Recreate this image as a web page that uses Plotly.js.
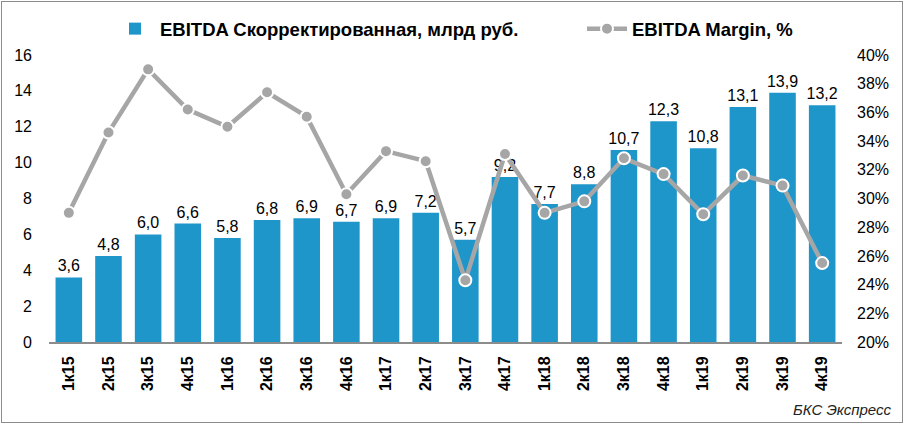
<!DOCTYPE html>
<html>
<head>
<meta charset="utf-8">
<script src="https://cdn.plot.ly/plotly-3.0.1.min.js"></script>
<style>
  body { margin: 0; background: #fff; }
  #chart { width: 907px; height: 428px; }
  #frame { position: absolute; left: 1px; top: 1px; width: 900px; height: 420px;
           border: 1.5px solid #8c8c8c; pointer-events: none; }
</style>
</head>
<body>
<div id="chart"></div>
<div id="frame"></div>
<script>
var quarters = ['1к15', '2к15', '3к15', '4к15', '1к16', '2к16', '3к16', '4к16', '1к17', '2к17',
                '3к17', '4к17', '1к18', '2к18', '3к18', '4к18', '1к19', '2к19', '3к19', '4к19'];
var ebitda = [3.6, 4.8, 6.0, 6.6, 5.8, 6.8, 6.9, 6.7, 6.9, 7.2,
              5.7, 9.2, 7.7, 8.8, 10.7, 12.3, 10.8, 13.1, 13.9, 13.2];
var margin = [29.0, 34.6, 39.0, 36.2, 35.0, 37.4, 35.7, 30.3, 33.3, 32.6,
              24.3, 33.1, 29.0, 29.8, 32.8, 31.7, 28.9, 31.6, 30.9, 25.5];

chart = document.getElementById("chart");

var data = [
  {
    x: quarters,
    y: ebitda,
    type: 'bar',
    name: 'EBITDA Скорректированная, млрд руб.',
    legend: 'legend',
    marker: {color: '#1E96CA'},
    texttemplate: '%{y:.1f}',
    textposition: 'outside',
    constraintext: 'none',
    textfont: {size: 16, color: '#000'},
    cliponaxis: false,
    hoverinfo: 'x+y'
  },
  {
    x: quarters,
    y: margin,
    type: 'scatter',
    mode: 'lines+markers',
    name: 'EBITDA Margin, %',
    legend: 'legend2',
    yaxis: 'y2',
    line: {color: '#A6A6A6', width: 4.5},
    marker: {color: '#A6A6A6', size: 12, line: {color: '#fff', width: 2}},
    cliponaxis: false
  }
];

var legendFont = {size: 18.5, weight: 'bold'};

var layout = {
  width: 907,
  height: 428,
  separators: ', ',
  font: {family: 'Arial, Liberation Sans', color: '#000'},
  margin: {l: 49, r: 65, t: 55, b: 86, pad: 0, autoexpand: false},
  bargap: 0.33,
  showlegend: true,
  legend: {
    orientation: 'h',
    xref: 'container', yref: 'container',
    x: 110 / 907, xanchor: 'left',
    y: 0.932, yanchor: 'middle',
    font: legendFont,
    itemwidth: 40
  },
  legend2: {
    orientation: 'h',
    xref: 'container', yref: 'container',
    x: 582 / 907, xanchor: 'left',
    y: 0.932, yanchor: 'middle',
    font: legendFont,
    itemwidth: 40
  },
  xaxis: {
    automargin: false,
    range: [-0.5, 19.5],
    tickangle: -90,
    tickfont: {size: 16, weight: 'bold'},
    ticklabelstandoff: 6,
    showline: true,
    linecolor: '#8c8c8c',
    linewidth: 2,
    ticks: '',
    showgrid: false
  },
  yaxis: {
    automargin: false,
    range: [0, 16],
    dtick: 2,
    showgrid: false,
    zeroline: false,
    tickfont: {size: 16},
    ticks: '',
    ticklabelstandoff: 16
  },
  yaxis2: {
    automargin: false,
    overlaying: 'y',
    side: 'right',
    range: [20, 40],
    dtick: 2,
    ticksuffix: '%',
    showgrid: false,
    zeroline: false,
    tickfont: {size: 16},
    ticks: '',
    ticklabelstandoff: 14
  },
  annotations: [
    {
      text: 'БКС Экспресс',
      xref: 'paper', yref: 'paper',
      x: 1.065, y: -0.235,
      xanchor: 'right', yanchor: 'middle',
      showarrow: false,
      font: {size: 15, style: 'italic', color: '#222'}
    }
  ]
};

Plotly.newPlot(chart, data, layout, {displayModeBar: false});
</script>
</body>
</html>
